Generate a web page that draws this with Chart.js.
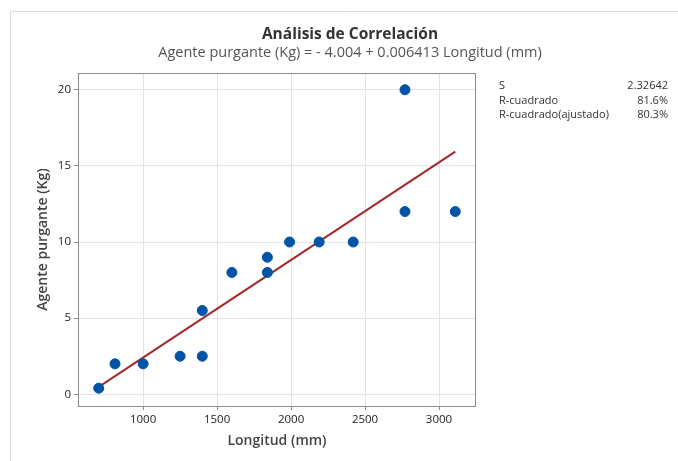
<!DOCTYPE html>
<html>
<head>
<meta charset="utf-8">
<script src="https://cdn.jsdelivr.net/npm/chart.js@4"></script>
<style>
  body { margin: 0; background: #fff; }
  #wrap { width: 678px; height: 461px; }
</style>
</head>
<body>
<div id="wrap"><canvas id="myChart" width="678" height="461"></canvas></div>
<script>
const ctx = document.getElementById('myChart');

// data
const longitud = [700, 810, 1000, 1250, 1400, 1400, 1600, 1840, 1840, 1990, 2190, 2420, 2770, 2770, 3110];
const agente   = [0.4, 2, 2, 2.5, 2.5, 5.5, 8, 8, 9, 10, 10, 10, 12, 20, 12];
const xTicks = [1000, 1500, 2000, 2500, 3000];
const yTicks = [0, 5, 10, 15, 20];

// fitted equation from the subtitle
const intercept = -4.004;
const slope = 0.006413;
const statLabels = ['S', 'R-cuadrado', 'R-cuadrado(ajustado)'];
const statValues = ['2.32642', '81.6%', '80.3%'];

const xMin = Math.min(...longitud), xMax = Math.max(...longitud);
const fitLine = [
  { x: xMin, y: intercept + slope * xMin },
  { x: xMax, y: intercept + slope * xMax }
];

const FONT = "'Open Sans', sans-serif";

const extras = {
  id: 'extras',
  beforeDraw(chart) {
    const c = chart.ctx;
    c.save();
    c.fillStyle = '#fff';
    c.fillRect(0, 0, chart.width, chart.height);
    c.strokeStyle = '#dcdcdc';
    c.lineWidth = 1;
    c.beginPath();
    c.moveTo(10.5, chart.height);
    c.lineTo(10.5, 11.5);
    c.lineTo(chart.width, 11.5);
    c.stroke();
    c.restore();
  },
  afterDraw(chart) {
    const c = chart.ctx;
    const a = chart.chartArea;
    c.save();
    // frame
    c.strokeStyle = '#8c8c8c';
    c.lineWidth = 1;
    c.strokeRect(a.left + 0.5, a.top + 0.5, a.right - a.left - 1, a.bottom - a.top);

    c.textBaseline = 'middle';
    c.textAlign = 'center';
    c.fillStyle = '#333';
    c.font = 'bold 15.5px ' + FONT;
    c.fillText('Análisis de Correlación', 350, 35);
    c.fillStyle = '#555';
    c.font = '14.5px ' + FONT;
    c.fillText('Agente purgante (Kg) = - 4.004 + 0.006413 Longitud (mm)', 350, 53);

    // axis titles
    c.fillStyle = '#444';
    c.font = '600 14px ' + FONT;
    c.fillText('Longitud (mm)', (a.left + a.right) / 2, 441);
    c.save();
    c.translate(43, (a.top + a.bottom) / 2);
    c.rotate(-Math.PI / 2);
    c.fillText('Agente purgante (Kg)', 0, 0);
    c.restore();

    // stats
    c.font = '11px ' + FONT;
    c.fillStyle = '#333';
    statLabels.forEach((s, i) => {
      c.textAlign = 'left';
      c.fillText(s, 499, 86 + i * 14.5);
      c.textAlign = 'right';
      c.fillText(statValues[i], 668, 86 + i * 14.5);
    });
    c.restore();
  }
};

new Chart(ctx, {
  type: 'scatter',
  data: {
    datasets: [
      {
        label: 'Datos',
        data: longitud.map((x, i) => ({ x: x, y: agente[i] })),
        backgroundColor: '#0054a6',
        borderColor: '#0054a6',
        pointRadius: 5,
        pointHoverRadius: 5,
        order: 1
      },
      {
        label: 'Ajuste',
        type: 'line',
        data: fitLine,
        borderColor: '#a3282a',
        borderWidth: 2,
        pointRadius: 0,
        fill: false,
        order: 2
      }
    ]
  },
  options: {
    responsive: false,
    animation: false,
    layout: { padding: { left: 10, top: 73, right: 202, bottom: 0 } },
    scales: {
      x: {
        type: 'linear',
        min: 560,
        max: 3250,
        afterBuildTicks: s => { s.ticks = xTicks.map(v => ({ value: v })); },
        afterFit: s => { s.height = 55; },
        grid: { color: '#e4e4e4', tickColor: '#8c8c8c', tickLength: 4, drawOnChartArea: true },
        border: { display: false },
        ticks: { color: '#222', font: { family: FONT, size: 11.5, weight: '500' }, padding: 3, maxRotation: 0, callback: v => String(v) }
      },
      y: {
        type: 'linear',
        min: -0.77,
        max: 21.1,
        afterBuildTicks: s => { s.ticks = yTicks.map(v => ({ value: v })); },
        afterFit: s => { s.width = 68; },
        grid: { color: '#e4e4e4', tickColor: '#8c8c8c', tickLength: 4 },
        border: { display: false },
        ticks: { color: '#222', font: { family: FONT, size: 11.5, weight: '500' }, padding: 3, callback: v => String(v) }
      }
    },
    plugins: {
      legend: { display: false },
      tooltip: { enabled: false }
    }
  },
  plugins: [extras]
});
</script>
</body>
</html>
